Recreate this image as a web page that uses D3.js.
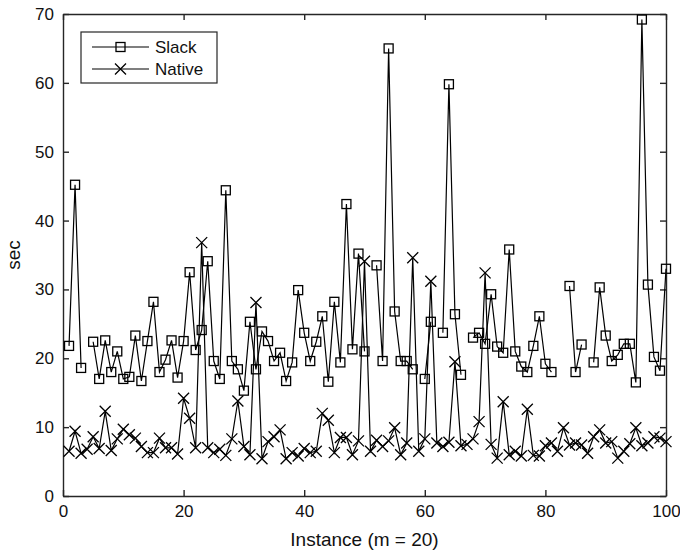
<!DOCTYPE html>
<html lang="en">
<head>
<meta charset="UTF-8">
<title>Slack vs Native</title>
<style>
body { margin: 0; background: #fff; }
svg text { font-family: "Liberation Sans", Arial, Helvetica, sans-serif; fill: #111; }
.axis path, .axis line { stroke: #262626; stroke-width: 1.4; }
.axis text { font-size: 17px; }
.series { fill: none; stroke: #000; stroke-width: 1.2; }
.marker { fill: none; stroke: #000; stroke-width: 1.3; }
</style>
</head>
<body>
<svg width="680" height="554"></svg>
<script src="https://cdnjs.cloudflare.com/ajax/libs/d3/7.8.5/d3.min.js"></script>
<script>
// instance numbers 1..100
var instances = d3.range(1, 101);

// Slack runtime (sec), null = missing run
var slack = [
  21.8, 45.2, 18.6, null, 22.4, 17.0, 22.6, 18.0, 21.0, 17.0,
  17.3, 23.3, 16.7, 22.5, 28.2, 18.0, 19.8, 22.6, 17.2, 22.5,
  32.5, 21.2, 24.1, 34.1, 19.6, 17.0, 44.4, 19.6, 18.4, 15.3,
  25.3, 18.4, 23.9, 22.5, 19.6, 20.8, 16.7, 19.4, 29.9, 23.7,
  19.6, 22.4, 26.1, 16.6, 28.2, 19.4, 42.4, 21.3, 35.2, 21.0,
  null, 33.5, 19.6, 65.0, 26.8, 19.6, 19.6, 18.4, null, 17.0,
  25.3, null, 23.7, 59.8, 26.4, 17.6, null, 23.0, 23.7, 22.1,
  29.3, 21.7, 20.8, 35.8, 21.0, 18.8, 18.0, 21.8, 26.1, 19.2,
  18.0, null, null, 30.5, 18.0, 22.0, null, 19.4, 30.3, 23.3,
  19.6, 20.5, 22.1, 22.1, 16.5, 69.2, 30.7, 20.2, 18.2, 33.0
];

// Native runtime (sec)
var native = [
  6.5, 9.4, 6.2, 6.8, 8.6, 6.9, 12.3, 6.6, 8.3, 9.7,
  8.9, 8.4, 7.2, 6.3, 6.3, 8.4, 7.0, 7.0, 6.1, 14.2,
  11.3, 7.0, 36.8, 7.0, 6.3, 6.8, 5.9, 8.3, 13.8, 7.2,
  6.0, 28.1, 5.4, 7.9, 8.6, 9.6, 5.4, 6.3, 5.8, 6.9,
  6.3, 6.5, 12.0, 11.0, 6.3, 8.5, 8.5, 6.0, 8.0, 34.1,
  6.5, 8.1, 7.2, 8.0, 9.9, 6.0, 7.7, 34.6, 6.5, 8.3,
  31.2, 7.7, 7.2, 7.8, 19.5, 7.3, 7.5, 8.3, 10.8, 32.4,
  7.5, 5.5, 13.7, 6.0, 6.5, 5.8, 12.6, 5.9, 5.8, 7.3,
  7.7, 6.5, 9.9, 7.4, 7.7, 7.4, 6.2, 8.6, 9.6, 7.7,
  7.9, 5.5, 6.5, 7.6, 9.9, 7.3, 7.7, 8.6, 8.4, 7.9
];

var xTicks = [0, 20, 40, 60, 80, 100];
var yTicks = [0, 10, 20, 30, 40, 50, 60, 70];

var svg = d3.select('svg');
var margin = { top: 14, right: 14, bottom: 58, left: 63 };
var width = +svg.attr('width') - margin.left - margin.right;
var height = +svg.attr('height') - margin.top - margin.bottom;

var x = d3.scaleLinear().domain([0, 100]).range([0, width]);
var y = d3.scaleLinear().domain([0, 70]).range([height, 0]);

var g = svg.append('g')
    .attr('transform', 'translate(' + margin.left + ',' + margin.top + ')');

// axes, ticks pointing inwards, mirrored on top/right
g.append('g')
    .attr('class', 'axis')
    .attr('transform', 'translate(0,' + height + ')')
    .call(d3.axisBottom(x).tickValues(xTicks).tickSizeInner(-6).tickSizeOuter(0).tickPadding(9));
g.append('g')
    .attr('class', 'axis')
    .call(d3.axisTop(x).tickValues(xTicks).tickSizeInner(-6).tickSizeOuter(0).tickFormat(''));
g.append('g')
    .attr('class', 'axis')
    .call(d3.axisLeft(y).tickValues(yTicks).tickSizeInner(-6).tickSizeOuter(0).tickPadding(9));
g.append('g')
    .attr('class', 'axis')
    .attr('transform', 'translate(' + width + ',0)')
    .call(d3.axisRight(y).tickValues(yTicks).tickSizeInner(-6).tickSizeOuter(0).tickFormat(''));

g.selectAll('.axis .domain').attr('stroke', '#262626');

var slackData = instances.map(function(d, i) { return { x: d, y: slack[i] }; });
var nativeData = instances.map(function(d, i) { return { x: d, y: native[i] }; });

var line = d3.line()
    .defined(function(d) { return d.y != null; })
    .x(function(d) { return x(d.x); })
    .y(function(d) { return y(d.y); });

g.append('path').attr('class', 'series').attr('d', line(nativeData));
g.append('path').attr('class', 'series').attr('d', line(slackData));

var sq = 9, cr = 5.5;

function crossPath(cx, cy, r) {
  return 'M' + (cx - r) + ',' + (cy - r) + 'L' + (cx + r) + ',' + (cy + r) +
         'M' + (cx - r) + ',' + (cy + r) + 'L' + (cx + r) + ',' + (cy - r);
}

g.selectAll('.cross')
  .data(nativeData)
  .enter().append('path')
    .attr('class', 'marker cross')
    .attr('d', function(d) { return crossPath(x(d.x), y(d.y), cr); });

g.selectAll('.square')
  .data(slackData.filter(function(d) { return d.y != null; }))
  .enter().append('rect')
    .attr('class', 'marker square')
    .attr('x', function(d) { return x(d.x) - sq / 2; })
    .attr('y', function(d) { return y(d.y) - sq / 2; })
    .attr('width', sq)
    .attr('height', sq);

// axis titles
svg.append('text')
    .attr('x', margin.left + width / 2)
    .attr('y', 546)
    .attr('text-anchor', 'middle')
    .style('font-size', '19px')
    .text('Instance (m = 20)');

svg.append('text')
    .attr('transform', 'translate(20,' + (margin.top + height / 2) + ') rotate(-90)')
    .attr('text-anchor', 'middle')
    .style('font-size', '19px')
    .text('sec');

// legend
var legend = svg.append('g').attr('transform', 'translate(81,32)');
legend.append('rect')
    .attr('width', 136).attr('height', 51)
    .attr('fill', '#fff').attr('stroke', '#262626').attr('stroke-width', 1.2);

var items = [{ name: 'Slack', type: 'square' }, { name: 'Native', type: 'cross' }];
items.forEach(function(it, i) {
  var ly = 15 + i * 22;
  legend.append('line')
      .attr('x1', 11).attr('x2', 68).attr('y1', ly).attr('y2', ly)
      .attr('stroke', '#000').attr('stroke-width', 1.2);
  if (it.type === 'square') {
    legend.append('rect').attr('class', 'marker')
        .attr('x', 39.5 - sq / 2).attr('y', ly - sq / 2).attr('width', sq).attr('height', sq);
  } else {
    legend.append('path').attr('class', 'marker').attr('d', crossPath(39.5, ly, cr));
  }
  legend.append('text')
      .attr('x', 74).attr('y', ly + 6)
      .style('font-size', '17px')
      .text(it.name);
});
</script>
</body>
</html>
